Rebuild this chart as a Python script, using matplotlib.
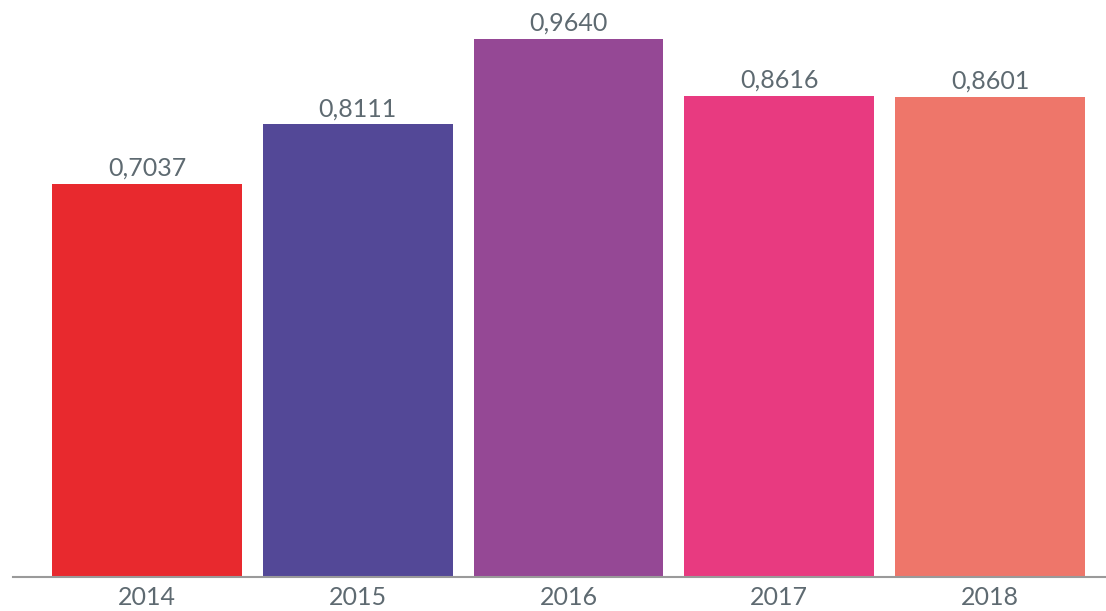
import matplotlib.pyplot as plt
import matplotlib as mpl

years = ["2014", "2015", "2016", "2017", "2018"]
values = [0.7037, 0.8111, 0.9640, 0.8616, 0.8601]
colors = ["#e8292e", "#534897", "#954895", "#e83a80", "#ee766a"]

TEXT = "#5e6a71"
AXIS = "#9a9a9a"

mpl.rcParams["font.family"] = ["Lato", "DejaVu Sans"]

fig = plt.figure(figsize=(11.06, 6.11), dpi=100)
ax = fig.add_axes([13 / 1106, 1 - 576.5 / 611, 1 - 13 / 1106, 576.5 / 611])

x = range(len(years))
bars = ax.bar(x, values, width=0.9, color=colors, zorder=2)

for xi, v in zip(x, values):
    ax.annotate(f"{v:.4f}".replace(".", ","), (xi, v), xytext=(0, 3),
                textcoords="offset points", ha="center", va="bottom",
                fontsize=18, color=TEXT)

ax.set_xlim(-0.636, 4.55)
ax.set_ylim(0, 1.034)
ax.set_xticks(list(x))
ax.set_xticklabels(years, fontsize=18, color=TEXT)
ax.tick_params(axis="x", length=0, pad=7)
ax.set_yticks([])
for s in ["top", "right", "left"]:
    ax.spines[s].set_visible(False)
ax.spines["bottom"].set_color(AXIS)
ax.spines["bottom"].set_linewidth(1.5)
ax.patch.set_alpha(0)

fig.savefig("out.png", dpi=100)
